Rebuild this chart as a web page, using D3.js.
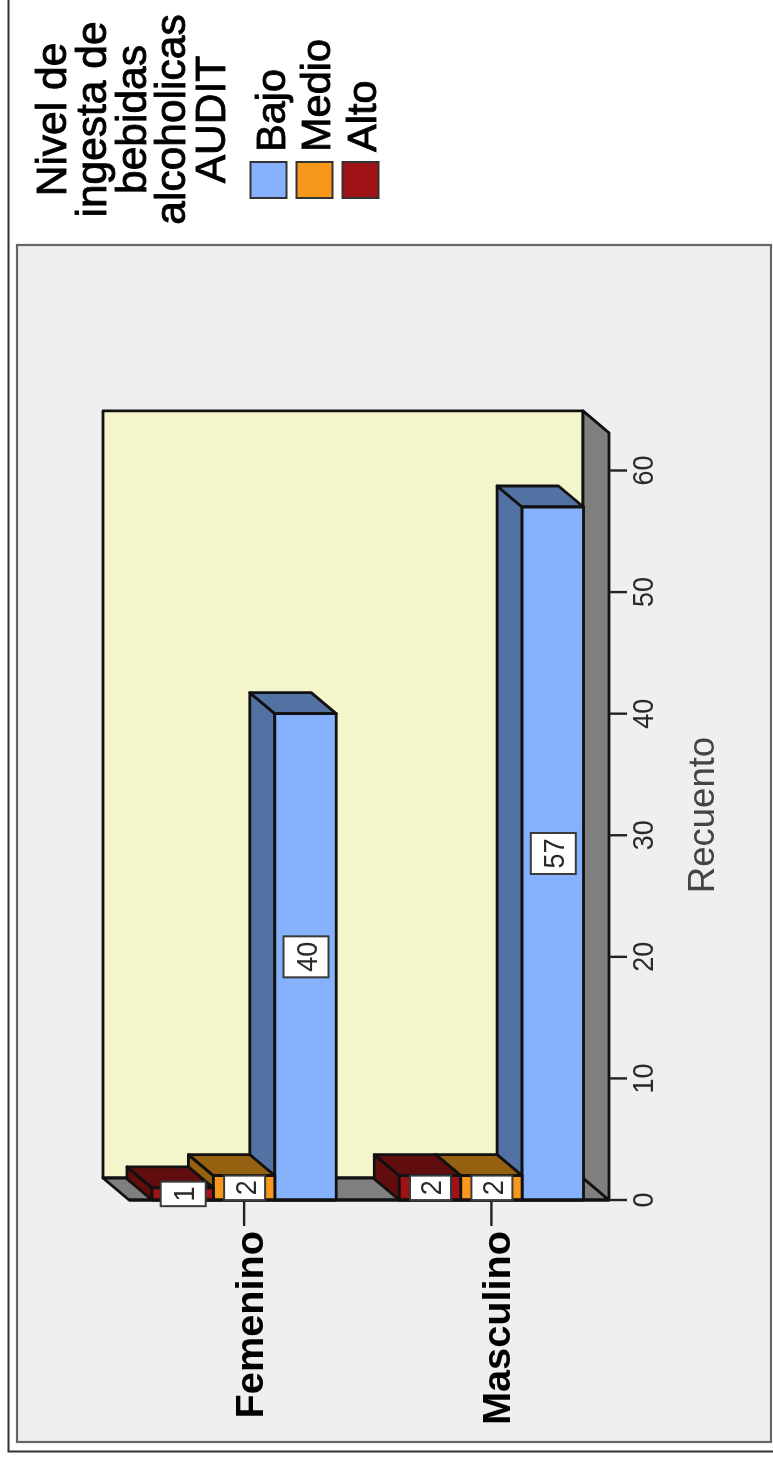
<!DOCTYPE html>
<html><head><meta charset="utf-8">
<script src="https://cdn.jsdelivr.net/npm/d3@7/dist/d3.min.js"></script>
<style>html,body{margin:0;padding:0;background:#fff}svg{display:block;filter:blur(0.6px)}text{font-family:"Liberation Sans",Arial,sans-serif}</style>
</head><body><svg id="c" width="773" height="1458"></svg>
<script>
const categories = ["Femenino","Masculino"];
const seriesNames = ["Bajo","Medio","Alto"];
const bajo = [40,57];
const medio = [2,2];
const alto = [1,2];
const valueTicks = [0,10,20,30,40,50,60];
const titleLines = ["Nivel de","ingesta de","bebidas","alcoholicas","AUDIT"];
const axisTitle = "Recuento";
const frontColors = ["#86b2fd","#f7981d","#9f1316"];
const shadeColors = ["#5272a4","#95600f","#620d0d"];

const valuesBySeries = [bajo,medio,alto];
const svg = d3.select("#c");
const dx = 26, dy = 22, barDx = 25, barDy = 21;

const y = d3.scaleLinear().domain([0,60]).range([1200,470.5]);
const x = d3.scaleBand().domain(categories).range([152,583.5]).paddingInner(63/247);
const inner = d3.scaleBand().domain(seriesNames.slice().reverse()).range([0,x.bandwidth()]);
const plotL = 129, plotR = 609, plotTop = y(63.1), plotBot = y(0);

const poly = (pts,fill,sw=2.8)=>svg.append("polygon").attr("points",pts.map(p=>p.join(",")).join(" "))
  .attr("fill",fill).attr("stroke","#111").attr("stroke-width",sw).attr("stroke-linejoin","round");
const rotText = (s,px,py,size,anchor,opts={})=>svg.append("text").text(s)
  .attr("transform",`translate(${px},${py}) rotate(-90) scale(1,${opts.sy||1})`)
  .attr("font-size",size).attr("text-anchor",anchor)
  .attr("font-weight",opts.weight||"normal").attr("fill",opts.fill||"#000")
  .attr("stroke",opts.fill||"#000").attr("stroke-width",opts.sw||0);

// frame
svg.append("path").attr("d","M8.5,0V1451.5H773").attr("fill","none").attr("stroke","#333").attr("stroke-width",2);
svg.append("rect").attr("x",17).attr("y",245).attr("width",754).attr("height",1197)
  .attr("fill","#efefef").attr("stroke","#666").attr("stroke-width",2.2);

// title and legend
titleLines.forEach((t,i)=>rotText(t,66+i*39.8,119.5,42.5,"middle",{sw:0.9}));
const legendBase=[285,330,376];
const legendBox=[250.5,296.5,342.5];
seriesNames.forEach((s,i)=>{
  rotText(s,legendBase[i],152,41.5,"start",{sw:0.9});
  svg.append("rect").attr("x",legendBox[i]).attr("y",162).attr("width",36).attr("height",36)
    .attr("fill",frontColors[i]).attr("stroke","#333").attr("stroke-width",2);
});

// walls
poly([[plotL-dx,plotTop-dy],[plotR-dx,plotTop-dy],[plotR-dx,plotBot-dy],[plotL-dx,plotBot-dy]],"#f5f5cc");
poly([[plotL-dx,plotBot-dy],[plotR-dx,plotBot-dy],[plotR,plotBot],[plotL,plotBot]],"#7f7f7f");
poly([[plotR-dx,plotTop-dy],[plotR,plotTop],[plotR,plotBot],[plotR-dx,plotBot-dy]],"#7f7f7f");

// bars: right-most first so nearer bars paint over
categories.forEach((c,ci)=>{
  seriesNames.forEach((s,si)=>{
    const v = valuesBySeries[si][ci];
    const l = x(c)+inner(s), r = l+inner.bandwidth(), t = y(v), b = y(0);
    poly([[l-barDx,t-barDy],[l,t],[l,b],[l-barDx,b-barDy]],shadeColors[si]);
    poly([[l-barDx,t-barDy],[r-barDx,t-barDy],[r,t],[l,t]],shadeColors[si]);
    poly([[l,t],[r,t],[r,b],[l,b]],frontColors[si]);
  });
});

// axes
svg.append("line").attr("x1",plotL).attr("x2",plotR).attr("y1",plotBot).attr("y2",plotBot).attr("stroke","#111").attr("stroke-width",2.8);
valueTicks.forEach(v=>{
  svg.append("line").attr("x1",plotR).attr("x2",plotR+18).attr("y1",y(v)).attr("y2",y(v)).attr("stroke","#222").attr("stroke-width",2.4);
  rotText(v,653,y(v),27,"middle",{fill:"#2a2a2a",sy:1.08});
});
categories.forEach(c=>{
  const cx = x(c)+x.bandwidth()/2;
  svg.append("line").attr("x1",cx).attr("x2",cx).attr("y1",plotBot).attr("y2",plotBot+26).attr("stroke","#222").attr("stroke-width",2.4);
  rotText(c,cx+19,1231,39.7,"end",{weight:"bold"});
});
rotText(axisTitle,714,815,36.5,"middle",{fill:"#444"});

// value labels
categories.forEach((c,ci)=>{
  seriesNames.forEach((s,si)=>{
    const v = valuesBySeries[si][ci];
    const cx = x(c)+inner(s)+inner.bandwidth()/2, cy = (y(v)+y(0))/2;
    const h = String(v).length>1?41:24.5, w = v===2?41:45;
    svg.append("rect").attr("x",cx-w/2+0.5).attr("y",cy-h/2).attr("width",w).attr("height",h)
      .attr("fill","#fff").attr("stroke","#3a3a3a").attr("stroke-width",2);
    rotText(v,cx+11.5,cy,27,"middle",{fill:"#2a2a2a",sy:1.08});
  });
});
</script></body></html>
